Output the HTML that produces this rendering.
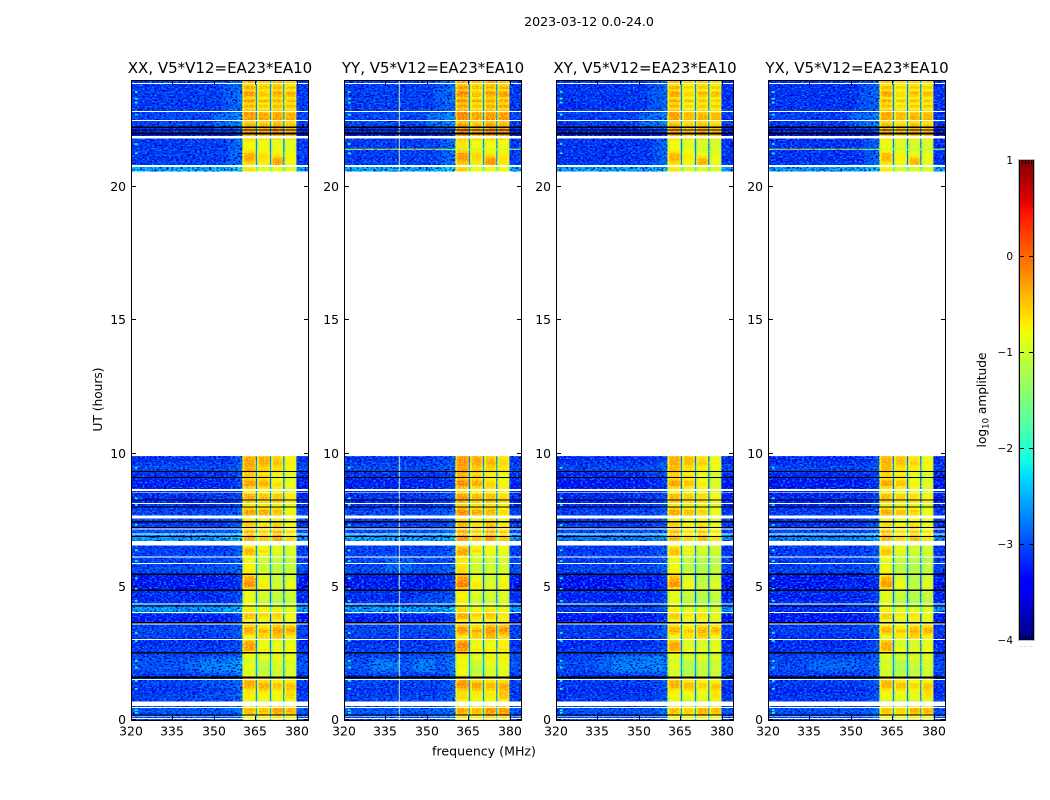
<!DOCTYPE html>
<html lang="en">
<head>
<meta charset="utf-8">
<title>2023-03-12 dynamic spectra</title>
<style>
html,body{margin:0;padding:0;background:#fff;width:1050px;height:800px;overflow:hidden}
svg{display:block;font-family:"DejaVu Sans","Liberation Sans",sans-serif;fill:#000}
</style>
</head>
<body>
<svg id="chart" xmlns="http://www.w3.org/2000/svg" width="1050" height="800" viewBox="0 0 1050 800">
  <defs id="defs"></defs>
  <text x="589" y="26" font-size="12.6" text-anchor="middle">2023-03-12 0.0-24.0</text>
  <text x="484" y="755.5" font-size="12.6" text-anchor="middle">frequency (MHz)</text>
  <text x="0" y="0" font-size="12.2" text-anchor="middle" transform="translate(102 399.5) rotate(-90)">UT (hours)</text>
  <text x="0" y="0" font-size="12.2" text-anchor="middle" transform="translate(986 400) rotate(-90)">log<tspan font-size="8.5" dy="2.5">10</tspan><tspan dy="-2.5"> amplitude</tspan></text>
  <g id="panels"></g>
  <g id="colorbar"></g>
</svg>
<script>
// ---- categories / tick labels ----
const panelTitles = ["XX, V5*V12=EA23*EA10", "YY, V5*V12=EA23*EA10", "XY, V5*V12=EA23*EA10", "YX, V5*V12=EA23*EA10"];
const freqTicks = [320, 335, 350, 365, 380];
const timeTicks = [0, 5, 10, 15, 20];
const cbarTicks = [1, 0, -1, -2, -3, -4];

// ---- time sampling: [first hour, last hour] of each observed stretch, 0.1 h rows ----
const timeRanges = [[0, 9.9], [20.6, 24]];

// ---- log10 amplitude per row: off-band background, then four on-band blocks ----
const bgLevels = [
 -3.0,-3.0,-2.95,-2.9,-2.95,-3.0,-3.0,-3.05,-3.1,-3.1,
 -3.15,-3.2,-3.1,-3.1,-3.05,-3.05,-3.2,-3.05,-3.0,-2.95,
 -2.95,-2.95,-3.0,-3.0,-3.05,-3.1,-3.1,-3.15,-3.2,-3.2,
 -3.2,-3.1,-3.1,-3.05,-3.05,-3.1,-3.2,-3.35,-3.35,-3.3,
 -2.6,-2.45,-2.45,-3.0,-3.15,-3.25,-3.25,-3.2,-3.2,-3.35,
 -3.35,-3.4,-3.35,-3.35,-3.3,-3.05,-3.0,-3.0,-3.05,-3.05,
 -3.05,-3.05,-3.05,-3.1,-3.1,-3.1,-3.0,-2.45,-2.4,-2.6,
 -2.9,-3.0,-3.05,-3.1,-3.1,-3.05,-3.1,-3.05,-3.05,-3.1,
 -3.2,-3.2,-3.25,-3.2,-3.2,-3.2,-3.25,-3.3,-3.3,-3.3,
 -3.25,-3.2,-3.2,-3.05,-3.0,-3.05,-3.1,-3.2,-3.2,
 -2.35,-2.35,-3.1,-3.1,
 -3.15,-3.15,-3.1,-3.1,-3.1,-3.15,-3.15,-3.1,-3.2,-3.3,
 -3.3,-3.2,-3.2,-3.1,-3.05,-3.1,-3.05,-3.05,-3.1,-3.1,
 -3.15,-3.15,-3.1,-3.1,-3.15,-3.1,-3.1,-3.15,-3.15,-3.1
];
const band1Levels = [
 -.8,-.7,-.45,-.35,-.4,-.8,-.8,-.9,-.7,-.75,
 -.7,-.6,-.3,-.25,-.3,-.6,-.8,-.95,-1,-.9,
 -.85,-.95,-1,-.9,-.8,-.7,-.25,-.2,-.2,-.35,
 -.85,-.8,-.5,-.25,-.3,-.6,-.7,-.85,-.45,-.4,
 -.7,-.65,-.8,-.9,-.85,-.85,-.9,-.85,-.8,-.55,
 -.1,-.1,-.25,-.3,-.55,-.7,-.7,-.75,-.8,-.85,
 -.75,-.8,-.4,-.35,-.5,-.8,-.8,-.35,-.25,-.3,
 -.35,-.5,-.45,-.5,-.6,-.7,-.25,-.25,-.2,-.5,
 -.75,-.5,-.45,-.3,-.35,-.7,-.75,-.5,-.15,-.2,
 -.5,-.4,-.5,-.25,-.3,-.3,-.25,-.25,-.3,
 -.6,-.7,-.65,-.5,
 -.3,-.3,-.35,-.65,-.75,-.8,-.8,-.7,-.5,-.3,
 -.3,-.2,-.25,-.3,-.55,-.15,-.2,-.15,-.25,-.6,
 -.3,-.55,-.2,-.6,-.25,-.15,-.55,-.25,-.6,-.3
];
const band2Levels = [
 -.85,-.7,-.5,-.4,-.45,-.8,-.8,-.95,-.8,-.75,
 -.75,-.5,-.3,-.3,-.55,-.75,-.85,-1.2,-1.25,-1.2,
 -1.15,-1.2,-1.1,-.85,-1.1,-.9,-.7,-.85,-.9,-.9,
 -.7,-.55,-.55,-.3,-.55,-.7,-.8,-.95,-.7,-.55,
 -.75,-.8,-.95,-1.1,-1.1,-1.1,-1.05,-1.0,-1.0,-.9,
 -.7,-.75,-.9,-.9,-1.0,-1.0,-1.1,-1.1,-1.1,-1.05,
 -1.05,-1.1,-.9,-.6,-.8,-.9,-.9,-.5,-.45,-.5,
 -.55,-.65,-.45,-.7,-.75,-.8,-.3,-.35,-.3,-.6,
 -.8,-.55,-.6,-.4,-.45,-.8,-.8,-.6,-.3,-.35,
 -.6,-.45,-.7,-.4,-.55,-.45,-.3,-.3,-.35,
 -.85,-.9,-.8,-.7,
 -.65,-.6,-.65,-.75,-.8,-.85,-.85,-.8,-.5,-.45,
 -.4,-.3,-.3,-.4,-.6,-.25,-.3,-.25,-.45,-.75,
 -.45,-.7,-.3,-.75,-.45,-.5,-.7,-.4,-.65,-.45
];
const band3Levels = [
 -.8,-.55,-.3,-.2,-.25,-.7,-.7,-.9,-.8,-.75,
 -.8,-.65,-.45,-.45,-.7,-.8,-.9,-1.1,-1.1,-1.05,
 -1,-.95,-1.0,-.75,-1.0,-.85,-.8,-.9,-.9,-.95,
 -.6,-.4,-.35,-.2,-.3,-.55,-.7,-.85,-.6,-.5,
 -.7,-.75,-1.0,-1.2,-1.2,-1.2,-1.15,-1.15,-1.1,-1.1,
 -1.05,-1.1,-1.1,-1.15,-1.2,-1.1,-1.2,-1.2,-1.15,-1.2,
 -1.15,-1.1,-1.0,-.85,-.95,-1.0,-.9,-.3,-.25,-.3,
 -.35,-.6,-.3,-.55,-.6,-.7,-.45,-.5,-.4,-.6,
 -.85,-.6,-.5,-.5,-.5,-.75,-.8,-.7,-.6,-.7,
 -.8,-.75,-.85,-.5,-.65,-.55,-.4,-.5,-.55,
 -.85,-.9,-.3,-.2,
 -.25,-.55,-.75,-.85,-.9,-.9,-.9,-.85,-.4,-.3,
 -.25,-.15,-.2,-.3,-.5,-.2,-.2,-.3,-.4,-.6,
 -.35,-.65,-.3,-.6,-.4,-.2,-.65,-.35,-.55,-.35
];
const band4Levels = [
 -.85,-.7,-.4,-.3,-.35,-.75,-.8,-.9,-.6,-.55,
 -.6,-.5,-.35,-.45,-.7,-.85,-.95,-1.05,-1.05,-1.0,
 -.95,-1.05,-1.0,-.8,-1.05,-.9,-.75,-.85,-.85,-.9,
 -.8,-.7,-.5,-.25,-.3,-.6,-.75,-.9,-.85,-.8,
 -.9,-.85,-1.05,-1.15,-1.15,-1.15,-1.1,-1.1,-1.05,-1.0,
 -.85,-.85,-1.0,-1.0,-1.1,-1.1,-1.15,-1.15,-1.1,-1.2,
 -1.2,-1.15,-1.0,-.95,-1.0,-1.0,-.95,-.6,-.55,-.65,
 -.6,-.8,-.65,-.8,-.85,-.9,-.7,-.75,-.75,-.85,
 -.95,-.8,-.7,-.7,-.75,-.9,-.95,-.9,-.85,-.9,
 -1.0,-.95,-1.0,-.7,-.8,-.75,-.7,-.75,-.8,
 -.9,-.95,-.85,-.8,
 -.75,-.8,-.85,-.9,-.95,-.95,-.95,-.9,-.5,-.4,
 -.4,-.3,-.35,-.45,-.6,-.25,-.3,-.3,-.5,-.7,
 -.35,-.7,-.4,-.7,-.35,-.3,-.75,-.4,-.7,-.5
];

// ---- frequency structure (MHz) and per-column level offsets ----
const bgFreqEdges = [320, 325, 330, 335, 340, 345, 350, 353, 355, 357, 358.5, 360.3];
const bgFreqOffsets = [0, .02, .04, .02, .02, .03, .04, .06, .1, .16, .26];
const bandFreqEdges = [[360.3, 365.1], [365.6, 370.2], [370.7, 375], [375.5, 379.8]];
const gapFreqEdges = [[365.1, 365.6], [370.2, 370.7], [375, 375.5], [379.8, 384]];
const gapOffsets = [.4, .4, .4, 0];
const bandEdgeFractions = [0, .14, .86, 1];
const bandEdgeOffsets = [-.4, 0, -.18];

// ---- per-panel differences: background offset and on-band block offsets ----
const panelBgOffsets = [0, .02, -.04, -.06];
const panelBandOffsets = [[.02, .02, .02, .02], [.14, .05, .1, .14], [-.03, -.08, -.08, -.06], [-.06, -.1, -.1, -.04]];

// ---- diffuse features: [hour from, hour to, MHz from, MHz to, level change] ----
const commonPatches = [[22.2, 22.8, 350, 360.3, .28], [22.9, 24, 353, 360.3, .15], [20.8, 21.8, 355, 360.3, .15]];
const patchesXX = [[1.7, 2.4, 345, 360, .15], [1.8, 2.3, 340, 360, .15], [.8, 1.5, 345, 360, .1], [3.1, 3.5, 320, 330, .08]];
const patchesYY = [[1.8, 2.3, 330, 340, .25], [1.8, 2.3, 345, 353, .25], [5.6, 6.1, 335, 345, .22], [4.4, 4.7, 345, 360, .15]];
const patchesXY = [[1.7, 2.6, 340, 358, .15], [1.8, 2.4, 335, 358, .18], [4.9, 5.3, 345, 353, .22], [4, 4.3, 320, 360, -.6], [6.7, 6.9, 320, 360, -.2]];
const patchesYX = [[1.8, 2.3, 335, 353, .18], [4.9, 5.3, 345, 353, .15], [4, 4.3, 320, 360, -.7], [6.7, 6.9, 320, 360, -.1]];
const panelPatches = [patchesXX, patchesYY, patchesXY, patchesYX];

// ---- flagged time ranges, hours ----
const whiteFlags = [[23.86,23.9],[22.82,22.86],[22.48,22.52],[21.82,21.92],[20.76,20.82],[8.6,8.67],[8.53,8.56],[8.1,8.14],[7.57,7.67],[7.15,7.19],[6.96,7],[6.54,6.72],[6.1,6.13],[5.86,5.9],[4.33,4.37],[4.01,4.05],[3.59,3.63],[3,3.04],[1.5,1.54],[.53,.7],[.45,.48],[.11,.14],[.04,.07]];
const blackFlags = [[22.22,22.27],[22.12,22.17],[21.98,22.04],[9.3,9.34],[9.08,9.12],[8.23,8.27],[7.98,8.02],[7.42,7.46],[7.2,7.24],[6.86,6.9],[5.45,5.49],[4.85,4.89],[4.26,4.3],[3.62,3.68],[2.5,2.56],[1.56,1.64],[.17,.21]];

// ---- narrow-band features ----
const speckHours = [23.55,23.3,23.15,22.7,21.6,21.25,9.45,8.3,8.05,7.3,6.35,5.95,5.3,4.9,4.45,3.25,2.95,2.2,1.95,1.45,1.15,.35,.25];
const speckLevel = -2.1;
const rfiHour = 21.4;
const rfiFreqs = [327, 331, 336, 345, 352];
const rfiPanels = [1, 3];
const vLineFreq = 340;
const vLinePanels = [1];

// ---- layout ----
const panelLefts = [131, 344, 556, 768];
const panelWidth = 177, plotTop = 80.5, plotBottom = 720;
const freqMin = 320, freqMax = 384, timeMin = 0, timeMax = 24;
const cbarLeft = 1019, cbarWidth = 15, cbarTop = 160, cbarBottom = 640, cbarMin = -4, cbarMax = 1;

const SVGNS = "http://www.w3.org/2000/svg";
function xScale(panel, f) { return panelLefts[panel] + (f - freqMin) * panelWidth / (freqMax - freqMin); }
function yScale(h) { return plotBottom - (h - timeMin) * (plotBottom - plotTop) / (timeMax - timeMin); }
function cbarScale(v) { return cbarBottom - (v - cbarMin) * (cbarBottom - cbarTop) / (cbarMax - cbarMin); }

function lerpStops(stops, t) {
  for (let i = 1; i < stops.length; i++) {
    if (t <= stops[i][0]) {
      const a = stops[i - 1], b = stops[i];
      return a[1] + (b[1] - a[1]) * (t - a[0]) / (b[0] - a[0]);
    }
  }
  return stops[stops.length - 1][1];
}
const jetR = [[0,0],[.35,0],[.66,1],[.89,1],[1,.5]];
const jetG = [[0,0],[.125,0],[.375,1],[.64,1],[.91,0],[1,0]];
const jetB = [[0,.5],[.11,1],[.34,1],[.65,0],[1,0]];
function jet(v) {
  const t = Math.max(0, Math.min(1, (v - cbarMin) / (cbarMax - cbarMin)));
  return "rgb(" + Math.round(255 * lerpStops(jetR, t)) + "," + Math.round(255 * lerpStops(jetG, t)) + "," + Math.round(255 * lerpStops(jetB, t)) + ")";
}

function addRect(parent, x, y, w, h, fill, name) {
  const el = document.createElementNS(SVGNS, "rect");
  el.setAttribute("x", x.toFixed(2));
  el.setAttribute("y", y.toFixed(2));
  el.setAttribute("width", w.toFixed(2));
  el.setAttribute("height", h.toFixed(2));
  el.setAttribute("fill", fill);
  
  
  parent.appendChild(el);
  return el;
}
function addLine(parent, x1, y1, x2, y2, stroke, name) {
  const el = document.createElementNS(SVGNS, "line");
  el.setAttribute("x1", x1);
  el.setAttribute("y1", y1);
  el.setAttribute("x2", x2);
  el.setAttribute("y2", y2);
  el.setAttribute("stroke", stroke);
  el.setAttribute("stroke-width", "1");
  
  
  parent.appendChild(el);
  return el;
}
function addText(parent, x, y, str, size, anchor, name) {
  const el = document.createElementNS(SVGNS, "text");
  el.setAttribute("x", x);
  el.setAttribute("y", y);
  el.setAttribute("font-size", size);
  el.setAttribute("text-anchor", anchor);
  
  
  el.textContent = str;
  parent.appendChild(el);
  return el;
}
function addGroup(parent, name) {
  const el = document.createElementNS(SVGNS, "g");
  
  
  parent.appendChild(el);
  return el;
}

// Row start hours follow from the observed ranges.
const rowStarts = [];
timeRanges.forEach(function (range) {
  const n = Math.round((range[1] - range[0]) / 0.1);
  for (let i = 0; i < n; i++) rowStarts.push(range[0] + i * 0.1);
});
const bandLevels = [band1Levels, band2Levels, band3Levels, band4Levels];

function patchDelta(patches, h, f) {
  let d = 0;
  patches.forEach(function (p) {
    if (h + 0.05 >= p[0] && h + 0.05 <= p[1] && f >= p[2] && f <= p[3]) d += p[4];
  });
  return d;
}

// Visual-only grain filters (speckle texture, not chart data).
const defs = document.getElementById("defs");
function makeGrain(id, seed, matrix, freq) {
  const f = document.createElementNS(SVGNS, "filter");
  f.setAttribute("id", id);
  f.setAttribute("x", "0");
  f.setAttribute("y", "0");
  f.setAttribute("width", "1");
  f.setAttribute("height", "1");
  f.setAttribute("color-interpolation-filters", "sRGB");
  const t = document.createElementNS(SVGNS, "feTurbulence");
  t.setAttribute("type", "fractalNoise");
  t.setAttribute("baseFrequency", freq);
  t.setAttribute("numOctaves", "1");
  t.setAttribute("seed", seed);
  const m = document.createElementNS(SVGNS, "feColorMatrix");
  m.setAttribute("values", matrix);
  f.appendChild(t);
  f.appendChild(m);
  defs.appendChild(f);
}

const panelsRoot = document.getElementById("panels");
panelTitles.forEach(function (title, p) {
  const x0 = panelLefts[p], x1 = x0 + panelWidth;
  const panel = addGroup(panelsRoot, "panel-" + title.slice(0, 2).toLowerCase());
  const cells = addGroup(panel, "heatmap");

  rowStarts.forEach(function (h, r) {
    const yTop = yScale(h + 0.1), rowH = yScale(h) - yTop + 0.4;
    const patches = commonPatches.concat(panelPatches[p]);
    // off-band columns
    for (let c = 0; c < bgFreqOffsets.length; c++) {
      const f0 = bgFreqEdges[c], f1 = bgFreqEdges[c + 1];
      const v = bgLevels[r] + bgFreqOffsets[c] + panelBgOffsets[p] + patchDelta(patches, h, (f0 + f1) / 2);
      addRect(cells, xScale(p, f0), yTop, xScale(p, f1) - xScale(p, f0) + 0.4, rowH, jet(v), "heatmap-cell");
    }
    // on-band blocks, each with darker edge columns
    bandFreqEdges.forEach(function (edges, b) {
      for (let s = 0; s < bandEdgeOffsets.length; s++) {
        const span = edges[1] - edges[0];
        const f0 = edges[0] + span * bandEdgeFractions[s], f1 = edges[0] + span * bandEdgeFractions[s + 1];
        const v = bandLevels[b][r] + panelBandOffsets[p][b] + bandEdgeOffsets[s];
        addRect(cells, xScale(p, f0), yTop, xScale(p, f1) - xScale(p, f0) + 0.4, rowH, jet(v), "heatmap-cell");
      }
    });
    // gaps between blocks and the region above the band
    gapFreqEdges.forEach(function (edges, g) {
      const v = bgLevels[r] + gapOffsets[g] + panelBgOffsets[p];
      addRect(cells, xScale(p, edges[0]), yTop, xScale(p, edges[1]) - xScale(p, edges[0]), rowH, jet(v), "heatmap-cell");
    });
  });

  // grain texture over the observed stretches
  const grainFreq = "0.42 0.62";
  makeGrain("grain-dark-" + p, 3 + p * 2, "0 0 0 0 0  0 0 0 0 0  0 0 0 0 .74  4.6 0 0 0 -2.1", grainFreq);
  makeGrain("grain-bright-" + p, 4 + p * 2, "0 0 0 0 0  0 0 0 0 .52  0 0 0 0 1  0 4.6 0 0 -2.25", grainFreq);
  makeGrain("grain-band-" + p, 5 + p * 2, "0 0 0 0 1  0 0 0 0 .95  0 0 0 0 .1  0 0 3 0 -1.35", "0.62 0.8");
  const grain = addGroup(panel, "background-speckle");
  timeRanges.forEach(function (range) {
    const yT = yScale(range[1]), hh = yScale(range[0]) - yT;
    const bgW = xScale(p, 360.3) - x0;
    const d = addRect(grain, x0, yT, bgW, hh, "#000", "speckle-dark");
    d.setAttribute("filter", "url(#grain-dark-" + p + ")");
    const l = addRect(grain, x0, yT, bgW, hh, "#000", "speckle-bright");
    l.setAttribute("filter", "url(#grain-bright-" + p + ")");
    const rx = xScale(p, 380.2);
    const rd = addRect(grain, rx, yT, x1 - rx, hh, "#000", "speckle-dark");
    rd.setAttribute("filter", "url(#grain-dark-" + p + ")");
    const rl = addRect(grain, rx, yT, x1 - rx, hh, "#000", "speckle-bright");
    rl.setAttribute("filter", "url(#grain-bright-" + p + ")");
    bandFreqEdges.forEach(function (edges) {
      const bd = addRect(grain, xScale(p, edges[0]), yT, xScale(p, edges[1]) - xScale(p, edges[0]), hh, "#000", "speckle-band");
      bd.setAttribute("filter", "url(#grain-band-" + p + ")");
    });
  });

  // left-edge specks
  const specks = addGroup(panel, "edge-specks");
  speckHours.forEach(function (h) {
    addRect(specks, xScale(p, 321.4), yScale(h + 0.05), xScale(p, 322.4) - xScale(p, 321.4), yScale(h) - yScale(h + 0.05) + 0.4, jet(speckLevel), "edge-speck");
  });

  // narrow RFI in the Y-polarisation panels
  if (rfiPanels.indexOf(p) >= 0) {
    addRect(panel, x0, yScale(rfiHour + 0.04), panelWidth, yScale(rfiHour) - yScale(rfiHour + 0.04), jet(-1.2), "rfi-line");
    rfiFreqs.forEach(function (f) {
      addRect(panel, xScale(p, f), yScale(rfiHour + 0.04), 2.5, yScale(rfiHour) - yScale(rfiHour + 0.04), jet(0.2), "rfi-speck");
    });
  }
  if (vLinePanels.indexOf(p) >= 0) {
    timeRanges.forEach(function (range) {
      const line = addRect(panel, xScale(p, vLineFreq) - 0.5, yScale(range[1]), 1, yScale(range[0]) - yScale(range[1]), "rgb(225,250,190)", "rfi-vertical-line");
      line.setAttribute("fill-opacity", "0.9");
    });
  }

  // flagged rows
  const flags = addGroup(panel, "flagged-rows");
  flags.setAttribute("shape-rendering", "crispEdges");
  whiteFlags.forEach(function (f) {
    addRect(flags, x0, yScale(f[1]), panelWidth, yScale(f[0]) - yScale(f[1]), "#fff", "flag-white");
  });
  blackFlags.forEach(function (f) {
    addRect(flags, x0, yScale(f[1]), panelWidth, yScale(f[0]) - yScale(f[1]), "#000", "flag-black");
  });

  // frame, ticks, labels
  const frame = addRect(panel, x0 + 0.5, plotTop, panelWidth, plotBottom + 0.5 - plotTop, "none", "plot-frame");
  frame.setAttribute("stroke", "#000");
  frame.setAttribute("stroke-width", "1");
  freqTicks.forEach(function (f) {
    const x = Math.round(xScale(p, f)) + 0.5;
    addLine(panel, x, plotBottom, x, plotBottom - 4, "#000", "x-tick");
    addLine(panel, x, plotTop, x, plotTop + 4, "#000", "x-tick");
    addText(panel, x - 0.5, 735.5, String(f), 12.4, "middle", "x-tick-label");
  });
  timeTicks.forEach(function (t) {
    const y = Math.round(yScale(t)) - 0.5;
    addLine(panel, x0 + 0.5, y, x0 + 5, y, "#000", "y-tick");
    addLine(panel, x1 - 4, y, x1, y, "#000", "y-tick");
    addText(panel, x0 - 5, y + 4.5, String(t), 12.4, "end", "y-tick-label");
  });
  addText(panel, (x0 + x1) / 2 + 0.5, 73, title, 15, "middle", "panel-title");
});

// ---- colorbar ----
const cbarRoot = document.getElementById("colorbar");
const ramp = addGroup(cbarRoot, "colorbar-ramp");
for (let y = cbarTop; y < cbarBottom; y += 2) {
  const v = cbarMin + (cbarBottom - y - 1) * (cbarMax - cbarMin) / (cbarBottom - cbarTop);
  addRect(ramp, cbarLeft, y, cbarWidth, 2.3, jet(v), "colorbar-step");
}
const outer = addRect(cbarRoot, cbarLeft - 0.5, cbarTop - 0.5, cbarWidth + 1, cbarBottom - cbarTop + 1, "none", "colorbar-outer-frame");
outer.setAttribute("stroke", "#bbb");
addLine(cbarRoot, cbarLeft + 0.5, cbarTop, cbarLeft + 0.5, cbarBottom, "#000", "colorbar-left-edge");
addLine(cbarRoot, cbarLeft + cbarWidth - 0.5, cbarTop, cbarLeft + cbarWidth - 0.5, cbarBottom, "#000", "colorbar-right-edge");
[3, 6, 9, 12].forEach(function (dx) {
  addLine(cbarRoot, cbarLeft + dx + 0.5, cbarTop, cbarLeft + dx + 0.5, cbarTop + 4, "#000", "colorbar-top-tick");
  addLine(cbarRoot, cbarLeft + dx + 0.5, cbarBottom - 4, cbarLeft + dx + 0.5, cbarBottom, "#000", "colorbar-bottom-tick");
});
cbarTicks.forEach(function (v) {
  const y = Math.round(cbarScale(v)) + 0.5;
  if (v > cbarMin && v < cbarMax) {
    addLine(cbarRoot, cbarLeft, y, cbarLeft + 5, y, "#000", "colorbar-tick");
    addLine(cbarRoot, cbarLeft + cbarWidth - 5, y, cbarLeft + cbarWidth, y, "#000", "colorbar-tick");
  }
  addText(cbarRoot, cbarLeft - 6, y + 3.5, String(v).replace("-", "\u2212"), 10.5, "end", "colorbar-tick-label");
});
const dots = addText(cbarRoot, cbarLeft + cbarWidth / 2 - 0.5, 647, "......", 5, "middle", "colorbar-offset-dots");
dots.setAttribute("fill", "#777");
dots.setAttribute("letter-spacing", "0.8");
</script>
</body>
</html>
